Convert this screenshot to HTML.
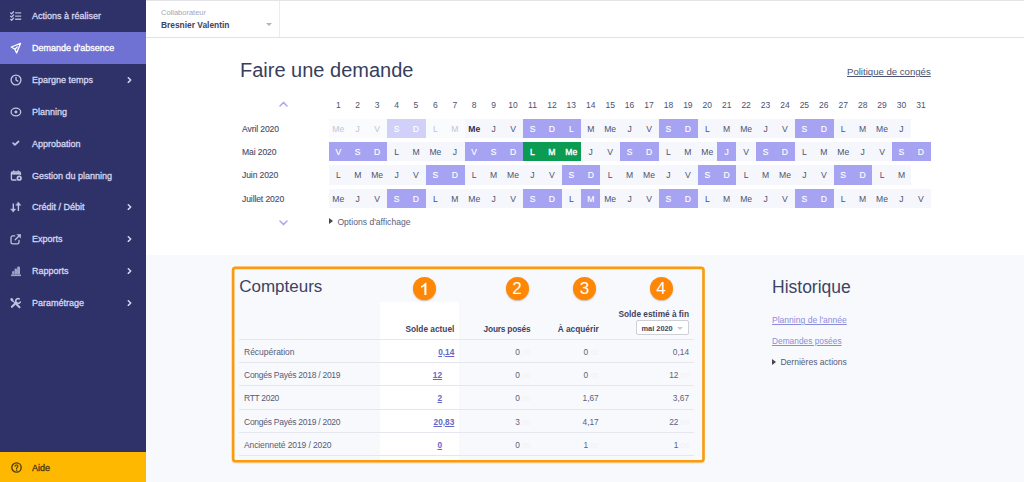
<!DOCTYPE html>
<html lang="fr">
<head>
<meta charset="utf-8">
<title>Demande d'absence</title>
<style>
*{box-sizing:border-box;margin:0;padding:0}
html,body{width:1024px;height:482px;overflow:hidden;background:#f8f9fd;font-family:"Liberation Sans",sans-serif;color:#3d4463}
.abs{position:absolute}
/* ---------- sidebar ---------- */
#side{position:absolute;left:0;top:0;width:146px;height:482px;background:#2e3269}
.mi{position:absolute;left:0;width:146px;height:31.85px;color:#d6d6f0;font-size:9px;line-height:31.85px;-webkit-text-stroke:0.3px currentColor}
.mi.act{background:#6f72d2;color:#fff}
.mi svg.ic{opacity:.88}.mi.act svg.ic{opacity:1}
.mi .tx{position:absolute;left:32px;top:1.3px;white-space:nowrap}
.mi svg.ic{position:absolute;left:10px;top:10px;width:12px;height:12px;fill:none;stroke:currentColor;stroke-width:1.35;stroke-linecap:round;stroke-linejoin:round;-webkit-text-stroke:0}
.mi svg.ch{position:absolute;left:126.7px;top:13.3px;width:5.2px;height:6.1px;fill:none;stroke:currentColor;stroke-width:1.7;stroke-linecap:round;stroke-linejoin:round}
#aide{position:absolute;left:0;top:452px;width:146px;height:30px;background:#ffb800;color:#4a3a10;font-size:9px;line-height:30px;-webkit-text-stroke:0.3px currentColor}
#aide .tx{position:absolute;left:32px;top:1.2px}
#aide svg{position:absolute;left:10.5px;top:10.4px;width:11px;height:11px;fill:none;stroke:currentColor;stroke-width:1.3;stroke-linecap:round;stroke-linejoin:round}
/* ---------- header ---------- */
#top{position:absolute;left:146px;top:0;width:878px;height:38px;background:#fff;border-top:1px solid #e4e4e8;border-bottom:1px solid #e2e2e6}
#top .div{position:absolute;left:133px;top:0;width:1px;height:36px;background:#ececf0}
#top .lab{position:absolute;left:15px;top:7.3px;font-size:7.5px;color:#a3a6bd;line-height:10px;white-space:nowrap}
#top .nm{position:absolute;left:15px;top:17.9px;font-size:8.4px;font-weight:700;color:#3d4463;line-height:12px;white-space:nowrap}
#top .car{position:absolute;left:120px;top:21.6px;width:0;height:0;border-left:3px solid transparent;border-right:3px solid transparent;border-top:3.5px solid #b4b4bc}
/* ---------- main top (white) ---------- */
#main{position:absolute;left:146px;top:38px;width:878px;height:217px;background:#fff}
h1{position:absolute;left:240px;top:57px;font-size:20px;font-weight:400;line-height:26px;color:#373e5d;white-space:nowrap}
#pol{position:absolute;left:847px;top:65px;font-size:9.6px;line-height:14px;color:#4c526f;text-decoration:underline;white-space:nowrap}
/* calendar */
#cal{position:absolute;left:0;top:0}
.dn{position:absolute;top:98.7px;width:19.42px;text-align:center;font-size:8.5px;line-height:12px;color:#4c526f}
.ml{position:absolute;left:242px;font-size:8.6px;line-height:20.5px;color:#464c69;white-space:nowrap;letter-spacing:-0.12px;-webkit-text-stroke:0.12px currentColor}
.c{position:absolute;width:19.42px;height:19.3px;background:#f6f7fc;text-align:center;font-size:8.6px;line-height:21px;color:#4c526f}
.c.w{background:#a5a3f2;color:#fff;-webkit-text-stroke:0.15px #fff}
.c.g{background:#0b9b53;color:#fff;-webkit-text-stroke:0.35px #fff}
.c.f{color:#c3c5d3;background:#fafbfd}
.c.fw{background:#d1d0f8;color:#fff;-webkit-text-stroke:0.15px #fff}
.c.b{font-weight:700;color:#2c3252}
.chev{position:absolute;width:9px;height:6px;fill:none;stroke:#a9a7ee;stroke-width:1.5;stroke-linecap:round;stroke-linejoin:round}
#opt{position:absolute;left:329px;top:215.9px;font-size:8.6px;line-height:12px;color:#596080;white-space:nowrap}
.tri{display:inline-block;width:0;height:0;border-top:3px solid transparent;border-bottom:3px solid transparent;border-left:4.2px solid #45454e;margin-right:4.4px;vertical-align:0.8px}
/* ---------- counters ---------- */
#box{position:absolute;left:0;top:0;pointer-events:none}
h2{position:absolute;font-size:17px;font-weight:400;line-height:24px;color:#3d4463;white-space:nowrap}
#wcol{position:absolute;left:380px;top:302px;width:79px;height:159px;background:#fff}
.hl{position:absolute;left:239px;width:455px;height:1px;background:#e6e7ee}
.th{position:absolute;font-size:8.3px;font-weight:700;line-height:12px;color:#3d4463;white-space:nowrap;text-align:right}
.rl{position:absolute;left:244px;font-size:8.5px;line-height:12px;color:#565b76;white-space:nowrap}
.v{position:absolute;font-size:8.3px;line-height:12px;color:#5c617b;white-space:nowrap;text-align:right}
.v i{font-style:normal;color:#f0f1f7;font-size:7.6px}
.v.k{font-weight:700;color:#6467c9;text-decoration:underline}
.v.k i{color:transparent;text-decoration:none;display:inline-block;font-size:8.8px}
.ball{position:absolute;top:276.5px;width:23px;height:23px;border-radius:50%;background:#fe8705;color:#fff;font-size:17px;line-height:23.6px;text-align:center;box-shadow:0 1px 1.5px rgba(120,70,10,.35)}
#sel{position:absolute;left:636.3px;top:320.3px;width:52.7px;height:15px;background:#fff;border:1px solid #cfd0d6;border-radius:2px;font-size:7.4px;font-weight:700;line-height:15.4px;color:#3d4463;padding-left:4.2px;white-space:nowrap}
#sel b{position:absolute;right:5.2px;top:6.2px;width:0;height:0;border-left:3.5px solid transparent;border-right:3.5px solid transparent;border-top:3.3px solid #c9cad0}
/* ---------- historique ---------- */
.lk{position:absolute;left:772px;font-size:8.7px;line-height:12px;color:#8b8cdc;text-decoration:underline;white-space:nowrap}
#der{position:absolute;left:772px;top:356.4px;font-size:8.55px;line-height:12px;color:#565b76;white-space:nowrap}
</style>
</head>
<body>
<div id="top">
  <div class="lab">Collaborateur</div>
  <div class="nm">Bresnier Valentin</div>
  <div class="car"></div>
  <div class="div"></div>
</div>
<div id="main"></div>
<div id="side">
<div class="mi" style="top:0.00px"><svg class="ic" viewBox="0 0 12 12"><path d="M5.1 2.9h6.1M5.1 6.1h6.1M5.1 9.3h6.1" stroke-width="1.4" stroke-linecap="butt" opacity=".9"/><path d="M0.7 3l.9.9 1.9-2.1M0.7 6.2l.9.9 1.9-2.1M0.7 9.4l.9.9 1.9-2.1" stroke-width="1.3"/></svg><span class="tx">Actions à réaliser</span></div>
<div class="mi act" style="top:31.85px"><svg class="ic" viewBox="0 0 12 12"><path d="M10.5 1.4L1.3 5l3.6 2.3L6.6 11z M4.9 7.3L7.2 5" stroke-width="1.3"/></svg><span class="tx">Demande d'absence</span></div>
<div class="mi" style="top:63.70px"><svg class="ic" viewBox="0 0 12 12"><circle cx="6" cy="6" r="4.9"/><path d="M6 3.3V6l1.8 1.1"/></svg><span class="tx">Epargne temps</span><svg class="ch" viewBox="0 0 6 7"><path d="M1.5 0.8L4.3 3.5 1.5 6.2"/></svg></div>
<div class="mi" style="top:95.55px"><svg class="ic" viewBox="0 0 12 12"><ellipse cx="5.9" cy="6" rx="4.8" ry="3.8" stroke-width="1.3"/><circle cx="5.9" cy="6" r="1.45" fill="currentColor" stroke="none"/></svg><span class="tx">Planning</span></div>
<div class="mi" style="top:127.40px"><svg class="ic" viewBox="0 0 12 12"><path d="M3.2 6.2L4.9 7.8 8.5 4.5" stroke-width="1.8"/></svg><span class="tx">Approbation</span></div>
<div class="mi" style="top:159.25px"><svg class="ic" viewBox="0 0 12 12"><g transform="translate(0,0.7)"><path d="M10.4 4.8V3.3a1 1 0 0 0-1-1h-7a1 1 0 0 0-1 1v6a1 1 0 0 0 1 1H6M3.8 1.2v1.2M8.2 1.2v1.2"/><path d="M1.6 3.9h8.6" stroke-width="2" stroke-linecap="butt"/><circle cx="9.2" cy="8.5" r="1.8" stroke-width="1.7"/></g></svg><span class="tx">Gestion du planning</span></div>
<div class="mi" style="top:191.10px"><svg class="ic" viewBox="0 0 12 12"><path d="M3.3 2.6V8.6M8.4 9.9V4" stroke-width="1.4" stroke-linecap="butt"/><path d="M0.9 8.1h4.8L3.3 10.9zM6 4.3h4.8L8.4 1.2z" fill="currentColor" stroke-width=".5"/></svg><span class="tx">Crédit / Débit</span><svg class="ch" viewBox="0 0 6 7"><path d="M1.5 0.8L4.3 3.5 1.5 6.2"/></svg></div>
<div class="mi" style="top:222.95px"><svg class="ic" viewBox="0 0 12 12"><path d="M9 7.3v1.9a1.7 1.7 0 0 1-1.7 1.7H2.7A1.7 1.7 0 0 1 1 9.200V4.6a1.7 1.7 0 0 1 1.700-1.700h2" stroke-width="1.3"/><path d="M5.2 6.8L9 3" stroke-width="1.3"/><path d="M7.300 1.400h3.400v3.400z" fill="currentColor" stroke-width=".6"/></svg><span class="tx">Exports</span><svg class="ch" viewBox="0 0 6 7"><path d="M1.5 0.8L4.3 3.5 1.5 6.2"/></svg></div>
<div class="mi" style="top:254.80px"><svg class="ic" viewBox="0 0 12 12"><path d="M1 10.3h10" stroke-width="1.6" stroke-linecap="butt" opacity=".8"/><g fill="currentColor" stroke="none" opacity=".78"><rect x="2.1" y="5.9" width="2.3" height="3.700" rx="1"/><rect x="4.500" y="3.500" width="2.500" height="6.100" rx="1.1"/><rect x="7.100" y="1.400" width="2.900" height="8.200" rx="1.3"/></g></svg><span class="tx">Rapports</span><svg class="ch" viewBox="0 0 6 7"><path d="M1.5 0.8L4.3 3.5 1.5 6.2"/></svg></div>
<div class="mi" style="top:286.65px"><svg class="ic" viewBox="0 0 12 12"><path d="M1.9 9.8L6.3 5.6" stroke-width="2.1"/><path d="M9.3 1.92A2.4 2.4 0 1 0 10.28 5.01" stroke-width="1.6"/><ellipse cx="1.9" cy="2.7" rx="1.3" ry="1.85" transform="rotate(-35 1.9 2.7)" fill="currentColor" stroke="none"/><path d="M2.7 3.8L5.6 6.5" stroke-width="1.1"/><path d="M6.2 7.1L9.5 10.2" stroke-width="2"/></svg><span class="tx">Paramétrage</span><svg class="ch" viewBox="0 0 6 7"><path d="M1.5 0.8L4.3 3.5 1.5 6.2"/></svg></div>
<div id="aide"><svg viewBox="0 0 11 11"><circle cx="5.5" cy="5.5" r="4.7"/><path d="M4.1 4.3a1.4 1.4 0 1 1 2 1.3c-.4.25-.6.5-.6.95" stroke-width="1.1"/><circle cx="5.5" cy="8.1" r=".35" fill="currentColor" stroke-width=".6"/></svg><span class="tx">Aide</span></div>
</div>
<h1>Faire une demande</h1>
<div id="pol">Politique de congés</div>
<div id="cal">
<div class="dn" style="left:328.60px">1</div>
<div class="dn" style="left:348.02px">2</div>
<div class="dn" style="left:367.44px">3</div>
<div class="dn" style="left:386.86px">4</div>
<div class="dn" style="left:406.28px">5</div>
<div class="dn" style="left:425.70px">6</div>
<div class="dn" style="left:445.12px">7</div>
<div class="dn" style="left:464.54px">8</div>
<div class="dn" style="left:483.96px">9</div>
<div class="dn" style="left:503.38px">10</div>
<div class="dn" style="left:522.80px">11</div>
<div class="dn" style="left:542.22px">12</div>
<div class="dn" style="left:561.64px">13</div>
<div class="dn" style="left:581.06px">14</div>
<div class="dn" style="left:600.48px">15</div>
<div class="dn" style="left:619.90px">16</div>
<div class="dn" style="left:639.32px">17</div>
<div class="dn" style="left:658.74px">18</div>
<div class="dn" style="left:678.16px">19</div>
<div class="dn" style="left:697.58px">20</div>
<div class="dn" style="left:717.00px">21</div>
<div class="dn" style="left:736.42px">22</div>
<div class="dn" style="left:755.84px">23</div>
<div class="dn" style="left:775.26px">24</div>
<div class="dn" style="left:794.68px">25</div>
<div class="dn" style="left:814.10px">26</div>
<div class="dn" style="left:833.52px">27</div>
<div class="dn" style="left:852.94px">28</div>
<div class="dn" style="left:872.36px">29</div>
<div class="dn" style="left:891.78px">30</div>
<div class="dn" style="left:911.20px">31</div>
<div class="ml" style="top:118.6px">Avril 2020</div>
<div class="c f" style="left:328.60px;top:118.6px">Me</div>
<div class="c f" style="left:348.02px;top:118.6px">J</div>
<div class="c f" style="left:367.44px;top:118.6px">V</div>
<div class="c fw" style="left:386.86px;top:118.6px">S</div>
<div class="c fw" style="left:406.28px;top:118.6px">D</div>
<div class="c f" style="left:425.70px;top:118.6px">L</div>
<div class="c f" style="left:445.12px;top:118.6px">M</div>
<div class="c b" style="left:464.54px;top:118.6px">Me</div>
<div class="c" style="left:483.96px;top:118.6px">J</div>
<div class="c" style="left:503.38px;top:118.6px">V</div>
<div class="c w" style="left:522.80px;top:118.6px">S</div>
<div class="c w" style="left:542.22px;top:118.6px">D</div>
<div class="c w" style="left:561.64px;top:118.6px">L</div>
<div class="c" style="left:581.06px;top:118.6px">M</div>
<div class="c" style="left:600.48px;top:118.6px">Me</div>
<div class="c" style="left:619.90px;top:118.6px">J</div>
<div class="c" style="left:639.32px;top:118.6px">V</div>
<div class="c w" style="left:658.74px;top:118.6px">S</div>
<div class="c w" style="left:678.16px;top:118.6px">D</div>
<div class="c" style="left:697.58px;top:118.6px">L</div>
<div class="c" style="left:717.00px;top:118.6px">M</div>
<div class="c" style="left:736.42px;top:118.6px">Me</div>
<div class="c" style="left:755.84px;top:118.6px">J</div>
<div class="c" style="left:775.26px;top:118.6px">V</div>
<div class="c w" style="left:794.68px;top:118.6px">S</div>
<div class="c w" style="left:814.10px;top:118.6px">D</div>
<div class="c" style="left:833.52px;top:118.6px">L</div>
<div class="c" style="left:852.94px;top:118.6px">M</div>
<div class="c" style="left:872.36px;top:118.6px">Me</div>
<div class="c" style="left:891.78px;top:118.6px">J</div>
<div class="ml" style="top:142.0px">Mai 2020</div>
<div class="c w" style="left:328.60px;top:142.0px">V</div>
<div class="c w" style="left:348.02px;top:142.0px">S</div>
<div class="c w" style="left:367.44px;top:142.0px">D</div>
<div class="c" style="left:386.86px;top:142.0px">L</div>
<div class="c" style="left:406.28px;top:142.0px">M</div>
<div class="c" style="left:425.70px;top:142.0px">Me</div>
<div class="c" style="left:445.12px;top:142.0px">J</div>
<div class="c w" style="left:464.54px;top:142.0px">V</div>
<div class="c w" style="left:483.96px;top:142.0px">S</div>
<div class="c w" style="left:503.38px;top:142.0px">D</div>
<div class="c g" style="left:522.80px;top:142.0px">L</div>
<div class="c g" style="left:542.22px;top:142.0px">M</div>
<div class="c g" style="left:561.64px;top:142.0px">Me</div>
<div class="c" style="left:581.06px;top:142.0px">J</div>
<div class="c" style="left:600.48px;top:142.0px">V</div>
<div class="c w" style="left:619.90px;top:142.0px">S</div>
<div class="c w" style="left:639.32px;top:142.0px">D</div>
<div class="c" style="left:658.74px;top:142.0px">L</div>
<div class="c" style="left:678.16px;top:142.0px">M</div>
<div class="c" style="left:697.58px;top:142.0px">Me</div>
<div class="c w" style="left:717.00px;top:142.0px">J</div>
<div class="c" style="left:736.42px;top:142.0px">V</div>
<div class="c w" style="left:755.84px;top:142.0px">S</div>
<div class="c w" style="left:775.26px;top:142.0px">D</div>
<div class="c" style="left:794.68px;top:142.0px">L</div>
<div class="c" style="left:814.10px;top:142.0px">M</div>
<div class="c" style="left:833.52px;top:142.0px">Me</div>
<div class="c" style="left:852.94px;top:142.0px">J</div>
<div class="c" style="left:872.36px;top:142.0px">V</div>
<div class="c w" style="left:891.78px;top:142.0px">S</div>
<div class="c w" style="left:911.20px;top:142.0px">D</div>
<div class="ml" style="top:165.3px">Juin 2020</div>
<div class="c" style="left:328.60px;top:165.3px">L</div>
<div class="c" style="left:348.02px;top:165.3px">M</div>
<div class="c" style="left:367.44px;top:165.3px">Me</div>
<div class="c" style="left:386.86px;top:165.3px">J</div>
<div class="c" style="left:406.28px;top:165.3px">V</div>
<div class="c w" style="left:425.70px;top:165.3px">S</div>
<div class="c w" style="left:445.12px;top:165.3px">D</div>
<div class="c" style="left:464.54px;top:165.3px">L</div>
<div class="c" style="left:483.96px;top:165.3px">M</div>
<div class="c" style="left:503.38px;top:165.3px">Me</div>
<div class="c" style="left:522.80px;top:165.3px">J</div>
<div class="c" style="left:542.22px;top:165.3px">V</div>
<div class="c w" style="left:561.64px;top:165.3px">S</div>
<div class="c w" style="left:581.06px;top:165.3px">D</div>
<div class="c" style="left:600.48px;top:165.3px">L</div>
<div class="c" style="left:619.90px;top:165.3px">M</div>
<div class="c" style="left:639.32px;top:165.3px">Me</div>
<div class="c" style="left:658.74px;top:165.3px">J</div>
<div class="c" style="left:678.16px;top:165.3px">V</div>
<div class="c w" style="left:697.58px;top:165.3px">S</div>
<div class="c w" style="left:717.00px;top:165.3px">D</div>
<div class="c" style="left:736.42px;top:165.3px">L</div>
<div class="c" style="left:755.84px;top:165.3px">M</div>
<div class="c" style="left:775.26px;top:165.3px">Me</div>
<div class="c" style="left:794.68px;top:165.3px">J</div>
<div class="c" style="left:814.10px;top:165.3px">V</div>
<div class="c w" style="left:833.52px;top:165.3px">S</div>
<div class="c w" style="left:852.94px;top:165.3px">D</div>
<div class="c" style="left:872.36px;top:165.3px">L</div>
<div class="c" style="left:891.78px;top:165.3px">M</div>
<div class="ml" style="top:188.5px">Juillet 2020</div>
<div class="c" style="left:328.60px;top:188.5px">Me</div>
<div class="c" style="left:348.02px;top:188.5px">J</div>
<div class="c" style="left:367.44px;top:188.5px">V</div>
<div class="c w" style="left:386.86px;top:188.5px">S</div>
<div class="c w" style="left:406.28px;top:188.5px">D</div>
<div class="c" style="left:425.70px;top:188.5px">L</div>
<div class="c" style="left:445.12px;top:188.5px">M</div>
<div class="c" style="left:464.54px;top:188.5px">Me</div>
<div class="c" style="left:483.96px;top:188.5px">J</div>
<div class="c" style="left:503.38px;top:188.5px">V</div>
<div class="c w" style="left:522.80px;top:188.5px">S</div>
<div class="c w" style="left:542.22px;top:188.5px">D</div>
<div class="c" style="left:561.64px;top:188.5px">L</div>
<div class="c w" style="left:581.06px;top:188.5px">M</div>
<div class="c" style="left:600.48px;top:188.5px">Me</div>
<div class="c" style="left:619.90px;top:188.5px">J</div>
<div class="c" style="left:639.32px;top:188.5px">V</div>
<div class="c w" style="left:658.74px;top:188.5px">S</div>
<div class="c w" style="left:678.16px;top:188.5px">D</div>
<div class="c" style="left:697.58px;top:188.5px">L</div>
<div class="c" style="left:717.00px;top:188.5px">M</div>
<div class="c" style="left:736.42px;top:188.5px">Me</div>
<div class="c" style="left:755.84px;top:188.5px">J</div>
<div class="c" style="left:775.26px;top:188.5px">V</div>
<div class="c w" style="left:794.68px;top:188.5px">S</div>
<div class="c w" style="left:814.10px;top:188.5px">D</div>
<div class="c" style="left:833.52px;top:188.5px">L</div>
<div class="c" style="left:852.94px;top:188.5px">M</div>
<div class="c" style="left:872.36px;top:188.5px">Me</div>
<div class="c" style="left:891.78px;top:188.5px">J</div>
<div class="c" style="left:911.20px;top:188.5px">V</div>
<svg class="chev" style="left:278.5px;top:101px" viewBox="0 0 9 6"><path d="M1 5l3.5-3.6L8 5"/></svg>
<svg class="chev" style="left:278.5px;top:219.5px" viewBox="0 0 9 6"><path d="M1 1l3.5 3.6L8 1"/></svg>
<div id="opt"><span class="tri"></span>Options d'affichage</div>
</div>
<div id="wcol"></div>
<svg id="box" width="1024" height="482" viewBox="0 0 1024 482"><rect x="233.1" y="268.4" width="470.4" height="193.6" rx="2.4" fill="none" stroke="#e8a04a" stroke-opacity=".28" stroke-width="3.2"/><rect x="233.1" y="267.65" width="470.4" height="193.6" rx="2.4" fill="none" stroke="#f99c0e" stroke-width="2.55"/></svg>
<h2 style="left:239.2px;top:275px">Compteurs</h2>
<div class="ball" style="left:413.1px"><svg viewBox="0 0 23 23" width="23" height="23" style="position:absolute;left:0;top:0"><path fill="#fff" d="M13.4 17.9h-2.05V9.1c-.9.8-2 1.45-3.2 1.9V9c1.9-.85 3.3-2.1 3.9-3.350h1.350z"/></svg></div>
<div class="ball" style="left:505.5px">2</div>
<div class="ball" style="left:573.1px">3</div>
<div class="ball" style="left:649.5px">4</div>
<div class="th" style="right:569.7px;top:322.8px;letter-spacing:0px">Solde actuel</div>
<div class="th" style="right:493.6px;top:322.8px;letter-spacing:-0.19px">Jours posés</div>
<div class="th" style="right:425.3px;top:322.8px;letter-spacing:0px">À acquérir</div>
<div class="th" style="right:335.0px;top:308px;letter-spacing:0px">Solde estimé à fin</div>
<div id="sel">mai 2020<b></b></div>
<div class="hl" style="top:338.8px"></div>
<div class="hl" style="top:362.1px"></div>
<div class="hl" style="top:385.4px"></div>
<div class="hl" style="top:408.7px"></div>
<div class="hl" style="top:432.0px"></div>
<div class="hl" style="top:455.2px"></div>
<div class="rl" style="top:345.7px;letter-spacing:0px">Récupération</div>
<div class="v k" style="right:569.7px;top:345.7px">0,14</div>
<div class="v" style="right:493.6px;top:345.7px">0<i>,00</i></div>
<div class="v" style="right:425.3px;top:345.7px">0<i>,00</i></div>
<div class="v" style="right:335.0px;top:345.7px">0,14</div>
<div class="rl" style="top:368.9px;letter-spacing:-0.26px">Congés Payés 2018 / 2019</div>
<div class="v k" style="right:569.7px;top:368.9px">12<i>,00</i></div>
<div class="v" style="right:493.6px;top:368.9px">0<i>,00</i></div>
<div class="v" style="right:425.3px;top:368.9px">0<i>,00</i></div>
<div class="v" style="right:335.0px;top:368.9px">12<i>,00</i></div>
<div class="rl" style="top:392.2px;letter-spacing:-0.31px">RTT 2020</div>
<div class="v k" style="right:569.7px;top:392.2px">2<i>,00</i></div>
<div class="v" style="right:493.6px;top:392.2px">0<i>,00</i></div>
<div class="v" style="right:425.3px;top:392.2px">1,67</div>
<div class="v" style="right:335.0px;top:392.2px">3,67</div>
<div class="rl" style="top:415.6px;letter-spacing:-0.26px">Congés Payés 2019 / 2020</div>
<div class="v k" style="right:569.7px;top:415.6px">20,83</div>
<div class="v" style="right:493.6px;top:415.6px">3<i>,00</i></div>
<div class="v" style="right:425.3px;top:415.6px">4,17</div>
<div class="v" style="right:335.0px;top:415.6px">22<i>,00</i></div>
<div class="rl" style="top:438.8px;letter-spacing:-0.11px">Ancienneté 2019 / 2020</div>
<div class="v k" style="right:569.7px;top:438.8px">0<i>,00</i></div>
<div class="v" style="right:493.6px;top:438.8px">0<i>,00</i></div>
<div class="v" style="right:425.3px;top:438.8px">1<i>,00</i></div>
<div class="v" style="right:335.0px;top:438.8px">1<i>,00</i></div>
<h2 style="left:772px;top:274.7px;font-size:17.5px">Historique</h2>
<div class="lk" style="top:314px;font-size:8.55px">Planning de l'année</div>
<div class="lk" style="top:335px;font-size:8.35px">Demandes posées</div>
<div id="der"><span class="tri"></span>Dernières actions</div>
</body>
</html>
